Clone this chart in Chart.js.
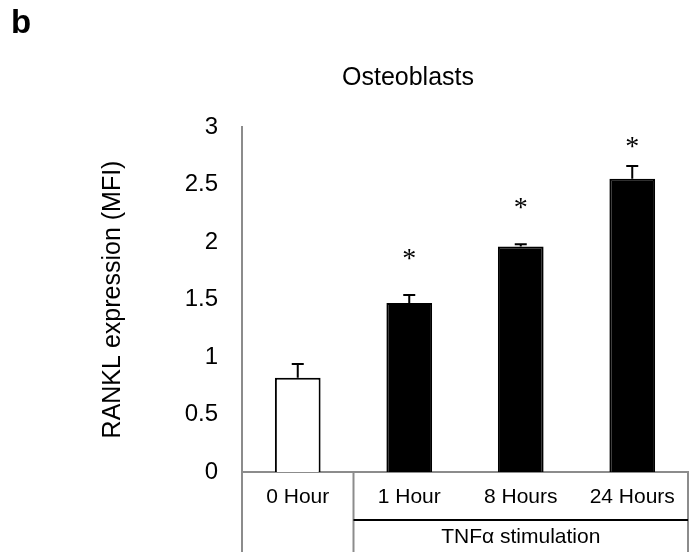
<!DOCTYPE html>
<html>
<head>
<meta charset="utf-8">
<script src="https://cdn.jsdelivr.net/npm/chart.js@4"></script>
<style>
  html, body { margin: 0; padding: 0; background: #fff; }
  #wrap { width: 700px; height: 552px; position: relative; }
</style>
</head>
<body>
<div id="wrap"><canvas id="bars"></canvas></div>
<script>
// Werte
const categories = ['0 Hour', '1 Hour', '8 Hours', '24 Hours'];
const rankl = [0.82, 1.47, 1.96, 2.55];
const errors = [0.12, 0.07, 0.02, 0.11];
const barColors = ['#ffffff', '#000000', '#000000', '#000000'];
const starAt = [null, 1.89, 2.33, 2.86];   // Hoehe der Sternchen (y-Werte)
const groups = [
  { label: '', from: 0, to: 0 },
  { label: 'TNF\u03b1 stimulation', from: 1, to: 3 }
];

const FONT = '"Liberation Sans", Arial, sans-serif';
const AXIS_GREY = '#8c8c8c';

// Fehlerbalken, Sternchen, Gruppen-Tabelle unter der Achse, Titel
const extras = {
  id: 'extras',
  afterDatasetsDraw(chart) {
    const { ctx, scales: { x, y } } = chart;
    ctx.save();
    // Fehlerbalken (nur nach oben)
    ctx.strokeStyle = '#000';
    ctx.lineWidth = 2;
    rankl.forEach((v, i) => {
      const cx = x.getPixelForValue(i);
      const y0 = y.getPixelForValue(v);
      const y1 = y.getPixelForValue(v + errors[i]);
      ctx.beginPath();
      ctx.moveTo(cx, y0);
      ctx.lineTo(cx, y1);
      ctx.moveTo(cx - 6, y1);
      ctx.lineTo(cx + 6, y1);
      ctx.stroke();
    });
    // Sternchen
    ctx.fillStyle = '#000';
    ctx.font = '28px "Liberation Serif", "Times New Roman", serif';
    ctx.textAlign = 'center';
    ctx.textBaseline = 'middle';
    starAt.forEach((s, i) => {
      if (s === null) return;
      ctx.fillText('*', x.getPixelForValue(i), y.getPixelForValue(s) + 5);
    });
    ctx.restore();
  },
  afterDraw(chart) {
    const { ctx, scales: { x }, chartArea } = chart;
    const H = chart.height;
    const half = (x.getPixelForValue(1) - x.getPixelForValue(0)) / 2;
    ctx.save();
    // senkrechte Trennlinien unter der Achse
    ctx.strokeStyle = AXIS_GREY;
    ctx.lineWidth = 2;
    const edges = [chartArea.left, chartArea.right];
    groups.forEach(g => {
      if (g.from > 0) edges.push(x.getPixelForValue(g.from) - half);
    });
    edges.forEach(px => {
      ctx.beginPath();
      ctx.moveTo(px, chartArea.bottom);
      ctx.lineTo(px, H);
      ctx.stroke();
    });
    // Gruppenbeschriftung
    ctx.font = '21px ' + FONT;
    ctx.fillStyle = '#000';
    ctx.textAlign = 'center';
    ctx.textBaseline = 'middle';
    groups.forEach(g => {
      if (!g.label) return;
      const gx0 = x.getPixelForValue(g.from) - half;
      const gx1 = x.getPixelForValue(g.to) + half;
      ctx.strokeStyle = '#000';
      ctx.beginPath();
      ctx.moveTo(gx0, chartArea.bottom + 48);
      ctx.lineTo(gx1, chartArea.bottom + 48);
      ctx.stroke();
      ctx.fillText(g.label, (gx0 + gx1) / 2, chartArea.bottom + 65);
    });
    // Panelbuchstabe und Titel
    ctx.textAlign = 'left';
    ctx.textBaseline = 'top';
    ctx.font = 'bold 33px ' + FONT;
    ctx.fillText('b', 11, 7);
    ctx.textAlign = 'center';
    ctx.textBaseline = 'middle';
    ctx.font = '25px ' + FONT;
    ctx.fillText('Osteoblasts', 408, 78);
    ctx.restore();
  }
};

new Chart(document.getElementById('bars'), {
  type: 'bar',
  data: {
    labels: categories,
    datasets: [{
      data: rankl,
      backgroundColor: barColors,
      borderColor: '#000',
      borderWidth: 2,
      categoryPercentage: 1,
      barPercentage: 0.41
    }]
  },
  options: {
    responsive: true,
    maintainAspectRatio: false,
    animation: false,
    layout: { padding: { top: 127, right: 12, bottom: 0, left: 0 } },
    plugins: {
      legend: { display: false },
      tooltip: { enabled: false }
    },
    scales: {
      x: {
        grid: { display: false, drawTicks: false },
        border: { display: true, color: AXIS_GREY, width: 2 },
        ticks: { color: '#000', font: { family: FONT, size: 21 }, padding: 13, maxRotation: 0 },
        afterFit(s) { s.height = 80; }
      },
      y: {
        min: 0,
        max: 3,
        grid: { display: false, drawTicks: false },
        border: { display: true, color: AXIS_GREY, width: 2 },
        ticks: {
          stepSize: 0.5,
          color: '#000',
          font: { family: FONT, size: 24 },
          padding: 24,
          callback: v => String(v)
        },
        title: {
          display: true,
          text: 'RANKL expression (MFI)',
          color: '#000',
          font: { family: FONT, size: 25 },
          padding: { top: 98, bottom: 0 }
        },
        afterFit(s) { s.width = 242; }
      }
    }
  },
  plugins: [extras]
});
</script>
</body>
</html>
